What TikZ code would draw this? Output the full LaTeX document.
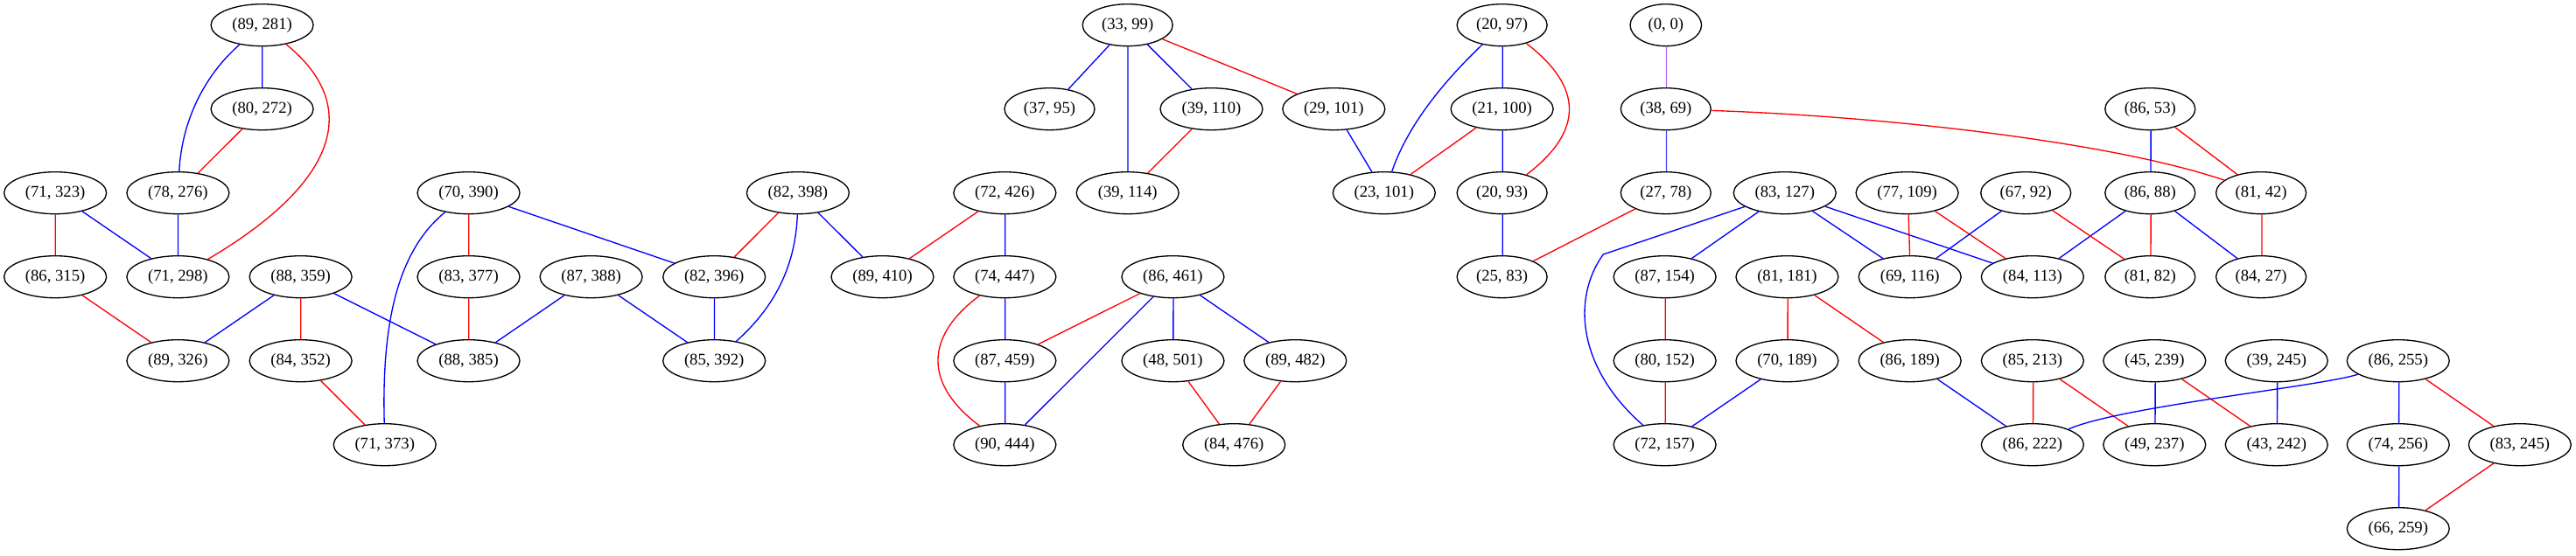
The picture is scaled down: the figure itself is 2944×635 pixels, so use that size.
\documentclass[tikz,border=0pt]{standalone}
\usepackage{fontspec}
\setmainfont{Liberation Serif}
\usetikzlibrary{shapes.geometric}
\definecolor{eblue}{RGB}{0,0,255}
\definecolor{ered}{RGB}{255,0,0}
\definecolor{epurple}{RGB}{180,100,240}
\definecolor{elblue}{RGB}{64,64,255}
\begin{document}
\begin{tikzpicture}[x=1pt,y=-1pt,
  nd/.style={ellipse,draw,line width=1.33pt,inner sep=0pt,minimum height=48pt,font=\fontsize{18.67}{22}\selectfont},
  wthree/.style={nd,minimum width=117pt},
  wtwo/.style={nd,minimum width=103pt},
  wone/.style={nd,minimum width=81.5pt},
  redge/.style={draw=ered,line width=1.33pt},
  bedge/.style={draw=eblue,line width=1.33pt},
  pedge/.style={draw=epurple,line width=1.33pt},
  lbedge/.style={draw=elblue,line width=1.33pt}]
\useasboundingbox (0,0) rectangle (2944,635);
\begin{scope}[xscale=1.001]
% row 1
\node[wthree] (n89x281) at (299.3,28.7) {(89, 281)};
\node[wtwo] (n33x99) at (1287.4,28.7) {(33, 99)};
\node[wtwo] (n20x97) at (1714.9,28.7) {(20, 97)};
\node[wone] (n0x0) at (1901.9,28.7) {(0, 0)};
% row 2
\node[wthree] (n80x272) at (299.3,124.7) {(80, 272)};
\node[wtwo] (n37x95) at (1198.3,124.7) {(37, 95)};
\node[wthree] (n39x110) at (1383.1,124.7) {(39, 110)};
\node[wthree] (n29x101) at (1522.8,124.7) {(29, 101)};
\node[wthree] (n21x100) at (1714.9,124.7) {(21, 100)};
\node[wtwo] (n38x69) at (1901.9,124.7) {(38, 69)};
\node[wtwo] (n86x53) at (2454.8,124.7) {(86, 53)};
% row 3
\node[wthree] (n71x323) at (63.1,220.7) {(71, 323)};
\node[wthree] (n78x276) at (203.2,220.7) {(78, 276)};
\node[wthree] (n70x390) at (535,220.7) {(70, 390)};
\node[wthree] (n82x398) at (911,220.7) {(82, 398)};
\node[wthree] (n72x426) at (1147.2,220.7) {(72, 426)};
\node[wthree] (n39x114) at (1287.4,220.7) {(39, 114)};
\node[wthree] (n23x101) at (1580.2,220.7) {(23, 101)};
\node[wtwo] (n20x93) at (1714.9,220.7) {(20, 93)};
\node[wtwo] (n27x78) at (1901.9,220.7) {(27, 78)};
\node[wthree] (n83x127) at (2037.7,220.7) {(83, 127)};
\node[wthree] (n77x109) at (2177.4,220.7) {(77, 109)};
\node[wtwo] (n67x92) at (2312.9,220.7) {(67, 92)};
\node[wtwo] (n86x88) at (2454.8,220.7) {(86, 88)};
\node[wtwo] (n81x42) at (2581.5,220.7) {(81, 42)};
% row 4
\node[wthree] (n86x315) at (63.1,316.7) {(86, 315)};
\node[wthree] (n71x298) at (203.2,316.7) {(71, 298)};
\node[wthree] (n88x359) at (343.3,316.7) {(88, 359)};
\node[wthree] (n83x377) at (535,316.7) {(83, 377)};
\node[wthree] (n87x388) at (674.9,316.7) {(87, 388)};
\node[wthree] (n82x396) at (815.4,316.7) {(82, 396)};
\node[wthree] (n89x410) at (1007.5,316.7) {(89, 410)};
\node[wthree] (n74x447) at (1147.2,316.7) {(74, 447)};
\node[wthree] (n86x461) at (1339.1,316.7) {(86, 461)};
\node[wtwo] (n25x83) at (1714.9,316.7) {(25, 83)};
\node[wthree] (n87x154) at (1900.7,316.7) {(87, 154)};
\node[wthree] (n81x181) at (2040.4,316.7) {(81, 181)};
\node[wthree] (n69x116) at (2180.5,316.7) {(69, 116)};
\node[wthree] (n84x113) at (2320.5,316.7) {(84, 113)};
\node[wtwo] (n81x82) at (2454.8,316.7) {(81, 82)};
\node[wtwo] (n84x27) at (2581.5,316.7) {(84, 27)};
% row 5
\node[wthree] (n89x326) at (203.2,412.7) {(89, 326)};
\node[wthree] (n84x352) at (343.3,412.7) {(84, 352)};
\node[wthree] (n88x385) at (535,412.7) {(88, 385)};
\node[wthree] (n85x392) at (815.4,412.7) {(85, 392)};
\node[wthree] (n87x459) at (1147.2,412.7) {(87, 459)};
\node[wthree] (n48x501) at (1339.1,412.7) {(48, 501)};
\node[wthree] (n89x482) at (1478.8,412.7) {(89, 482)};
\node[wthree] (n80x152) at (1900.7,412.7) {(80, 152)};
\node[wthree] (n70x189) at (2040.4,412.7) {(70, 189)};
\node[wthree] (n86x189) at (2180.5,412.7) {(86, 189)};
\node[wthree] (n85x213) at (2320.5,412.7) {(85, 213)};
\node[wthree] (n45x239) at (2459.8,412.7) {(45, 239)};
\node[wthree] (n39x245) at (2599.1,412.7) {(39, 245)};
\node[wthree] (n86x255) at (2738,412.7) {(86, 255)};
% row 6
\node[wthree] (n71x373) at (439.3,508.7) {(71, 373)};
\node[wthree] (n90x444) at (1147.2,508.7) {(90, 444)};
\node[wthree] (n84x476) at (1408.8,508.7) {(84, 476)};
\node[wthree] (n72x157) at (1900.7,508.7) {(72, 157)};
\node[wthree] (n86x222) at (2320.5,508.7) {(86, 222)};
\node[wthree] (n49x237) at (2459.8,508.7) {(49, 237)};
\node[wthree] (n43x242) at (2599.1,508.7) {(43, 242)};
\node[wthree] (n74x256) at (2738,508.7) {(74, 256)};
\node[wthree] (n83x245) at (2876.9,508.7) {(83, 245)};
% row 7
\node[wthree] (n66x259) at (2738,604.7) {(66, 259)};
\coordinate (bend1) at (1830,291);

% component left
\draw[bedge] (n89x281) -- (n80x272);
\draw[bedge] (n89x281) .. controls (240,80) and (208,130) .. (n78x276);
\draw[redge] (n89x281) .. controls (410,118) and (392,205) .. (n71x298);
\draw[redge] (n80x272) -- (n78x276);
\draw[redge] (n71x323) -- (n86x315);
\draw[bedge] (n71x323) -- (n71x298);
\draw[bedge] (n78x276) -- (n71x298);
\draw[redge] (n86x315) -- (n89x326);
\draw[bedge] (n88x359) -- (n89x326);
\draw[redge] (n88x359) -- (n84x352);
\draw[bedge] (n88x359) -- (n88x385);
\draw[redge] (n84x352) -- (n71x373);
\draw[bedge] (n70x390) .. controls (450,290) and (436,380) .. (n71x373);
\draw[redge] (n70x390) -- (n83x377);
\draw[bedge] (n70x390) -- (n82x396);
\draw[redge] (n83x377) -- (n88x385);
\draw[bedge] (n87x388) -- (n88x385);
\draw[bedge] (n87x388) -- (n85x392);
\draw[bedge] (n82x396) -- (n85x392);
\draw[redge] (n82x398) -- (n82x396);
\draw[bedge] (n82x398) .. controls (908,310) and (880,355) .. (n85x392);
\draw[bedge] (n82x398) -- (n89x410);
\draw[redge] (n72x426) -- (n89x410);
\draw[bedge] (n72x426) -- (n74x447);
\draw[bedge] (n74x447) -- (n87x459);
\draw[redge] (n74x447) .. controls (1055,385) and (1055,440) .. (n90x444);
\draw[bedge] (n87x459) -- (n90x444);
\draw[redge] (n86x461) -- (n87x459);
\draw[bedge] (n86x461) -- (n90x444);
\draw[bedge] (n86x461) -- (n48x501);
\draw[bedge] (n86x461) -- (n89x482);
\draw[redge] (n48x501) -- (n84x476);
\draw[redge] (n89x482) -- (n84x476);

% component right
\draw[bedge] (n33x99) -- (n37x95);
\draw[bedge] (n33x99) -- (n39x114);
\draw[bedge] (n33x99) -- (n39x110);
\draw[redge] (n33x99) -- (n29x101);
\draw[redge] (n39x110) -- (n39x114);
\draw[bedge] (n29x101) -- (n23x101);
\draw[bedge] (n20x97) .. controls (1660,82) and (1610,135) .. (n23x101);
\draw[bedge] (n20x97) -- (n21x100);
\draw[redge] (n20x97) .. controls (1808,100) and (1808,150) .. (n20x93);
\draw[redge] (n21x100) -- (n23x101);
\draw[bedge] (n21x100) -- (n20x93);
\draw[bedge] (n20x93) -- (n25x83);
\draw[redge] (n27x78) -- (n25x83);
\draw[pedge] (n0x0) -- (n38x69);
\draw[lbedge] (n38x69) -- (n27x78);
\draw[redge] (n38x69) .. controls (2150,133) and (2410,162) .. (n81x42);
\draw[bedge] (n86x53) -- (n86x88);
\draw[redge] (n86x53) -- (n81x42);
\draw[redge] (n86x88) -- (n81x82);
\draw[bedge] (n86x88) -- (n84x27);
\draw[bedge] (n86x88) -- (n84x113);
\draw[redge] (n81x42) -- (n84x27);
\draw[bedge] (n83x127) -- (bend1) .. controls (1795,340) and (1800,420) .. (n72x157);
\draw[bedge] (n83x127) -- (n87x154);
\draw[bedge] (n83x127) -- (n69x116);
\draw[bedge] (n83x127) -- (n84x113);
\draw[redge] (n77x109) -- (n69x116);
\draw[redge] (n77x109) -- (n84x113);
\draw[bedge] (n67x92) -- (n69x116);
\draw[redge] (n67x92) -- (n81x82);
\draw[redge] (n87x154) -- (n80x152);
\draw[redge] (n80x152) -- (n72x157);
\draw[redge] (n81x181) -- (n70x189);
\draw[redge] (n81x181) -- (n86x189);
\draw[bedge] (n70x189) -- (n72x157);
\draw[bedge] (n86x189) -- (n86x222);
\draw[redge] (n85x213) -- (n86x222);
\draw[redge] (n85x213) -- (n49x237);
\draw[bedge] (n45x239) -- (n49x237);
\draw[redge] (n45x239) -- (n43x242);
\draw[bedge] (n39x245) -- (n43x242);
\draw[bedge] (n86x255) .. controls (2650,442) and (2420,465) .. (n86x222);
\draw[bedge] (n86x255) -- (n74x256);
\draw[redge] (n86x255) -- (n83x245);
\draw[bedge] (n74x256) -- (n66x259);
\draw[redge] (n83x245) -- (n66x259);
\end{scope}
\end{tikzpicture}
\end{document}
